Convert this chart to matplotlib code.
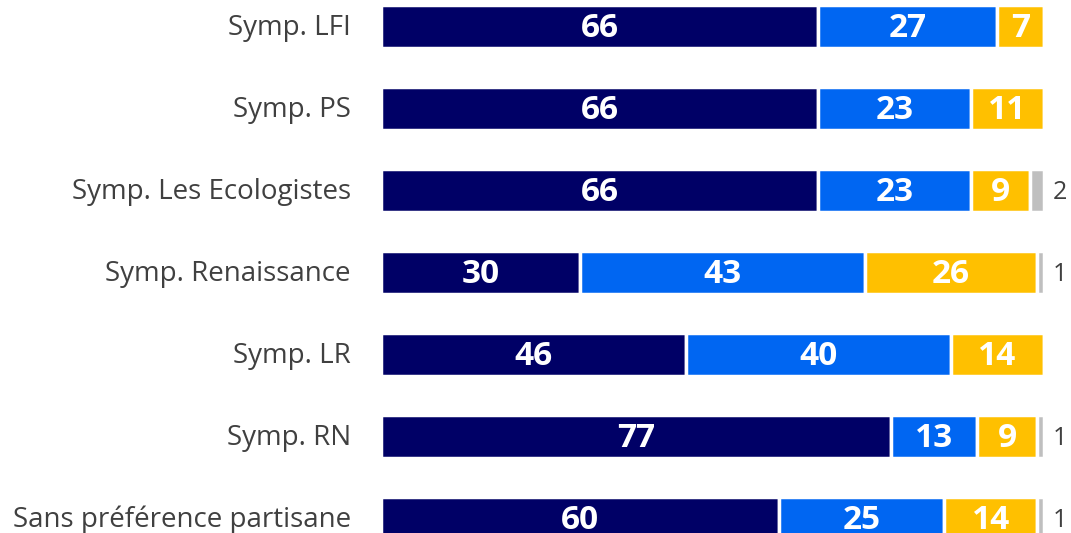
import numpy as np
import matplotlib.pyplot as plt

plt.rcParams['font.family'] = ['Open Sans', 'DejaVu Sans']

# catégories (de haut en bas) et valeurs en %
categories = ['Symp. LFI', 'Symp. PS', 'Symp. Les Ecologistes', 'Symp. Renaissance',
              'Symp. LR', 'Symp. RN', 'Sans préférence partisane']
serie_1 = [66, 66, 66, 30, 46, 77, 60]
serie_2 = [27, 23, 23, 43, 40, 13, 25]
serie_3 = [7, 11, 9, 26, 14, 9, 14]
nsp = [0, 0, 2, 1, 0, 1, 1]

colors = ['#000066', '#0066F2', '#FFC000', '#BFBFBF']

fig = plt.figure(figsize=(10.71, 5.33), dpi=100)
ax = fig.add_axes([0, 0, 1, 1])

y = np.arange(len(categories))
left = np.zeros(len(categories))
for vals, col in zip([serie_1, serie_2, serie_3, nsp], colors):
    vals = np.array(vals, dtype=float)
    ax.barh(y, vals, left=left, height=0.53, color=col, edgecolor='white', linewidth=2.5)
    if col != colors[3]:
        # étiquettes blanches dans les segments
        for yi, l, v in zip(y, left, vals):
            if v > 0:
                ax.text(l + v / 2, yi + 0.02, f'{int(v)}', ha='center', va='center',
                        color='white', fontsize=24, fontweight='bold')
    else:
        # petites valeurs à droite de la barre
        for yi, v in zip(y, vals):
            if v > 0:
                ax.text(101.3, yi + 0.02, f'{int(v)}', ha='left', va='center',
                        color='#404040', fontsize=18)
    left += vals

for yi, cat in zip(y, categories):
    ax.text(-4.6, yi + 0.02, cat, ha='right', va='center', color='#404040', fontsize=20)

ax.set_xlim(-57.56, 104.12)
ax.set_ylim(6.177, -0.323)
ax.axis('off')

fig.savefig('out.png', dpi=100)
